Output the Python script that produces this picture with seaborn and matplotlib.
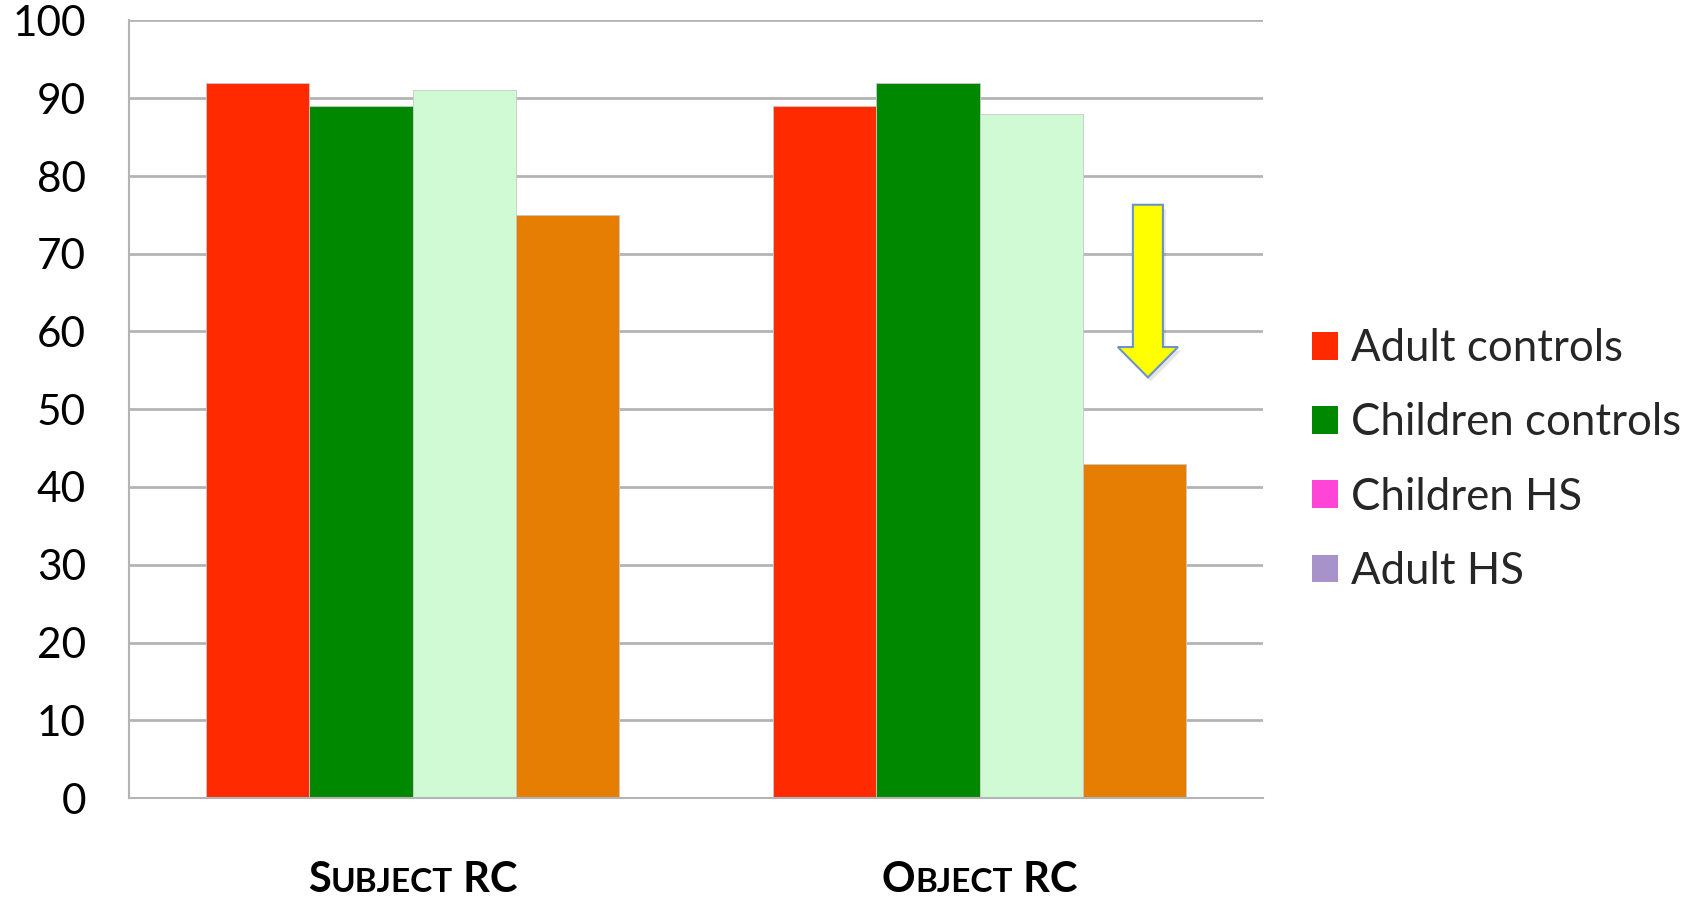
import matplotlib
matplotlib.use("Agg")
import matplotlib.pyplot as plt
import seaborn as sns
import pandas as pd
from matplotlib.patches import Patch, FancyArrow

# ---- data ----
categories = ["Subject RC", "Object RC"]
groups = ["Adult controls", "Children controls", "Children HS", "Adult HS"]
adult_controls = [92, 89]
children_controls = [89, 92]
children_hs = [91, 88]
adult_hs = [75, 43]
y_ticks = [0, 10, 20, 30, 40, 50, 60, 70, 80, 90, 100]
x_label_parts = [
    [("S", "big"), ("UBJECT", "small"), (" RC", "big")],
    [("O", "big"), ("BJECT", "small"), (" RC", "big")],
]

bar_colors = ["#FF2A00", "#008800", "#D0FAD4", "#E67E04"]
legend_colors = ["#FF2A00", "#008800", "#FF44D8", "#A892CA"]

rows = []
for g, vals in zip(groups, [adult_controls, children_controls, children_hs, adult_hs]):
    for c, v in zip(categories, vals):
        rows.append({"category": c, "group": g, "value": v})
df = pd.DataFrame(rows)

sns.set_theme(style="white")
plt.rcParams["font.family"] = ["Lato", "DejaVu Sans"]

W, H = 1696, 897
fig = plt.figure(figsize=(W / 100, H / 100), dpi=100)
ax = fig.add_axes([129 / W, 1 - 798 / H, (1263 - 129) / W, (798 - 20.5) / H])

sns.barplot(data=df, x="category", y="value", hue="group", order=categories,
            hue_order=groups, palette=bar_colors, width=0.73, gap=0,
            saturation=1, edgecolor="#c8c8c8", linewidth=0.6, legend=False, ax=ax)

ax.set_xlim(-0.5, 1.5)
ax.set_ylim(0, 100)
ax.set_yticks(y_ticks)
ax.set_yticklabels([str(t) for t in y_ticks], fontsize=30.5, color="black")
ax.yaxis.grid(True, color="#b4b4b4", linewidth=2)
ax.set_axisbelow(True)
ax.tick_params(axis="y", length=4, width=1.5, color="#b4b4b4", pad=27)
ax.set_xticks([-0.5, 0.5, 1.5])
ax.set_xticklabels([])
ax.tick_params(axis="x", length=10, width=1.5, color="#b4b4b4", direction="out")
ax.set_xlabel("")
ax.set_ylabel("")
for s in ["top", "right"]:
    ax.spines[s].set_visible(False)
for s in ["left", "bottom"]:
    ax.spines[s].set_color("#b4b4b4")
    ax.spines[s].set_linewidth(1.5)

# arrow annotation
shadow = FancyArrow(1.297 + 0.005, 76.3 - 0.5, 0, 54.1 - 76.3, width=0.053, head_width=0.106,
                    head_length=3.9, length_includes_head=True, facecolor="#000000",
                    alpha=0.1, edgecolor="none", zorder=4)
ax.add_patch(shadow)
arrow = FancyArrow(1.297, 76.3, 0, 54.1 - 76.3, width=0.053, head_width=0.106,
                   head_length=3.9, length_includes_head=True, facecolor="#FFFF00",
                   edgecolor="#6E93C8", linewidth=1.5, zorder=5)
ax.add_patch(arrow)

# legend
handles = [Patch(facecolor=c, edgecolor="none") for c in legend_colors]
fig.legend(handles, groups, loc="center left", bbox_to_anchor=(1312 / W, 1 - 460 / H),
           frameon=False, fontsize=31.5, handlelength=0.6, handleheight=0.6,
           handletextpad=0.3, labelspacing=0.76, borderpad=0, borderaxespad=0)

# small-caps category labels
fig.canvas.draw()
r = fig.canvas.get_renderer()
sizes = {"big": 30, "small": 24}
baseline = 1 - 892 / H
for i, parts in enumerate(x_label_parts):
    texts = []
    for s, k in parts:
        t = fig.text(0, baseline, s, fontsize=sizes[k], fontweight="bold",
                     va="baseline", ha="left", color="black")
        texts.append(t)
    widths = [t.get_window_extent(r).width for t in texts]
    total = sum(widths)
    cx_pix = ax.transData.transform((i, 0))[0]
    x = cx_pix - total / 2
    for t, w in zip(texts, widths):
        t.set_x(x / W)
        x += w

fig.savefig("out.png", dpi=100)
